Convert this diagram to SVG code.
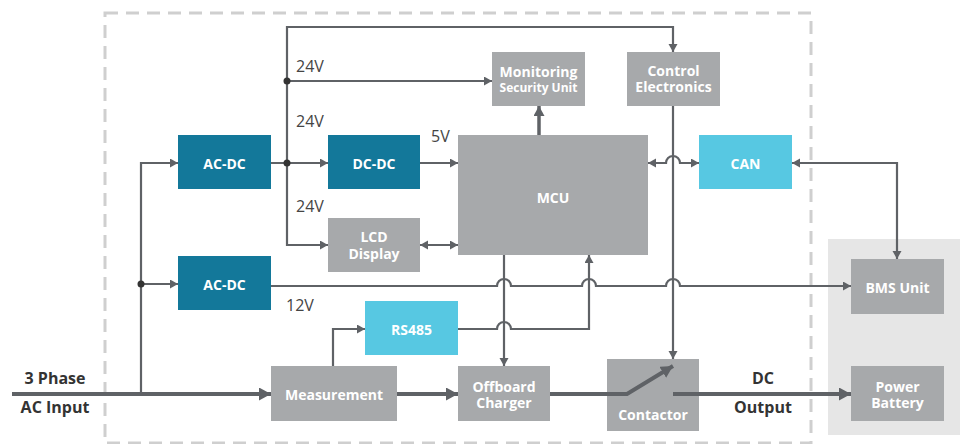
<svg xmlns="http://www.w3.org/2000/svg" width="960" height="444" viewBox="0 0 960 444">
<style>
.teal{fill:#13789a}
.cyan{fill:#57c8e2}
.gray{fill:#a7a9ab}
.lbl{font-family:"Open Sans","Liberation Sans",sans-serif;font-weight:700;font-size:14px;fill:#fff;text-anchor:middle}
.sm{font-size:12px}
.v{font-family:"Open Sans","Liberation Sans",sans-serif;font-size:16px;fill:#444}
.io{font-family:"Open Sans","Liberation Sans",sans-serif;font-weight:700;font-size:16px;fill:#333;text-anchor:middle}
.ln{fill:none;stroke:#5f6266;stroke-width:2.2}
.thick{fill:none;stroke:#5f6266;stroke-width:4}
.med{fill:none;stroke:#5f6266;stroke-width:3.5}
.dot{fill:#333}
</style>
<defs>
<marker id="a" markerUnits="userSpaceOnUse" markerWidth="10" markerHeight="10" refX="8" refY="4.5" orient="auto-start-reverse"><path d="M0,0 L8,4.5 L0,9 z" fill="#5f6266"/></marker>
<marker id="m" markerUnits="userSpaceOnUse" markerWidth="12" markerHeight="12" refX="10" refY="5.5" orient="auto"><path d="M0,0 L10,5.5 L0,11 z" fill="#5f6266"/></marker>
<marker id="b" markerUnits="userSpaceOnUse" markerWidth="14" markerHeight="14" refX="12" refY="6.5" orient="auto"><path d="M0,0 L12,6.5 L0,13 z" fill="#5f6266"/></marker>
</defs>
<rect x="828" y="239" width="140" height="196" fill="#e6e6e6"/>
<rect x="105" y="13" width="706" height="430" fill="none" stroke="#cfcfcf" stroke-width="3" stroke-dasharray="13 8"/>

<g id="connectors">
<path class="thick" d="M12,394 H271" marker-end="url(#b)"/>
<path class="ln" d="M141,394 V163 H178" marker-end="url(#a)"/>
<path class="ln" d="M141,284 H178" marker-end="url(#a)"/>
<path class="ln" d="M271,163 H328" marker-end="url(#a)"/>
<path class="ln" d="M287,163 V245 H328" marker-end="url(#a)"/>
<path class="ln" d="M287,163 V27 H673 V52" marker-end="url(#a)"/>
<path class="ln" d="M287,81 H492" marker-end="url(#a)"/>
<path class="ln" d="M420,163 H458" marker-end="url(#a)"/>
<path class="med" d="M539,135 V106" marker-end="url(#m)"/>
<path class="ln" d="M420,245 H458" marker-start="url(#a)" marker-end="url(#a)"/>
<path class="ln" d="M648,163 H666 A7,7 0 0 1 680,163 H699" marker-start="url(#a)" marker-end="url(#a)"/>
<path class="ln" d="M673,106 V359" marker-end="url(#a)"/>
<path class="ln" d="M792,163 H897 V259" marker-start="url(#a)" marker-end="url(#a)"/>
<path class="ln" d="M271,286 H497 A7,7 0 0 1 511,286 H582 A7,7 0 0 1 596,286 H666 A7,7 0 0 1 680,286 H851" marker-end="url(#a)"/>
<path class="ln" d="M504,255 V366" marker-end="url(#a)"/>
<path class="ln" d="M458,329 H497 A7,7 0 0 1 511,329 H589 V255" marker-end="url(#a)"/>
<path class="ln" d="M333,366 V329 H365" marker-end="url(#a)"/>
<path class="thick" d="M397,394 H458" marker-end="url(#b)"/>
<circle class="dot" cx="141" cy="284" r="3.5"/>
<circle class="dot" cx="287" cy="163" r="3.5"/>
<circle class="dot" cx="287" cy="81" r="3.5"/>
</g>

<g id="acdc1"><rect class="teal" x="178" y="135" width="93" height="54"/><text class="lbl" x="224.5" y="169">AC-DC</text></g>
<g id="dcdc"><rect class="teal" x="328" y="135" width="92" height="54"/><text class="lbl" x="374" y="169">DC-DC</text></g>
<g id="acdc2"><rect class="teal" x="178" y="256" width="93" height="54"/><text class="lbl" x="224.5" y="290">AC-DC</text></g>
<g id="mcu"><rect class="gray" x="458" y="135" width="190" height="120"/><text class="lbl" x="553" y="203">MCU</text></g>
<g id="monitoring"><rect class="gray" x="492" y="52" width="93" height="54"/><text class="lbl" x="538.5" y="77">Monitoring</text><text class="lbl sm" x="538.5" y="92">Security Unit</text></g>
<g id="control"><rect class="gray" x="627" y="52" width="93" height="54"/><text class="lbl" x="673.5" y="76">Control</text><text class="lbl" x="673.5" y="92">Electronics</text></g>
<g id="can"><rect class="cyan" x="699" y="135" width="93" height="54"/><text class="lbl" x="745.5" y="169">CAN</text></g>
<g id="lcd"><rect class="gray" x="328" y="218" width="92" height="54"/><text class="lbl" x="374" y="242">LCD</text><text class="lbl" x="374" y="259">Display</text></g>
<g id="rs485"><rect class="cyan" x="365" y="301" width="93" height="54"/><text class="lbl" x="411.5" y="335">RS485</text></g>
<g id="measurement"><rect class="gray" x="271" y="366" width="126" height="55"/><text class="lbl" x="334" y="400">Measurement</text></g>
<g id="offboard"><rect class="gray" x="458" y="366" width="92" height="55"/><text class="lbl" x="504" y="392">Offboard</text><text class="lbl" x="504" y="408">Charger</text></g>
<g id="contactor"><rect class="gray" x="607" y="359" width="92" height="72"/><text class="lbl" x="653" y="420">Contactor</text>
<path class="thick" d="M550,394 H627 L673,366" marker-end="url(#b)"/>
<path class="thick" d="M673,394 H851" marker-end="url(#b)"/></g>
<g id="bms"><rect class="gray" x="851" y="259" width="93" height="55"/><text class="lbl" x="897.5" y="293">BMS Unit</text></g>
<g id="battery"><rect class="gray" x="851" y="366" width="93" height="55"/><text class="lbl" x="897.5" y="392">Power</text><text class="lbl" x="897.5" y="408">Battery</text></g>

<g id="labels">
<text class="v" x="296" y="72">24V</text>
<text class="v" x="296" y="127">24V</text>
<text class="v" x="296" y="212">24V</text>
<text class="v" x="431" y="142">5V</text>
<text class="v" x="286" y="311">12V</text>
<text class="io" x="55" y="384">3 Phase</text>
<text class="io" x="55" y="413">AC Input</text>
<text class="io" x="763" y="384">DC</text>
<text class="io" x="763" y="413">Output</text>
</g>
</svg>
